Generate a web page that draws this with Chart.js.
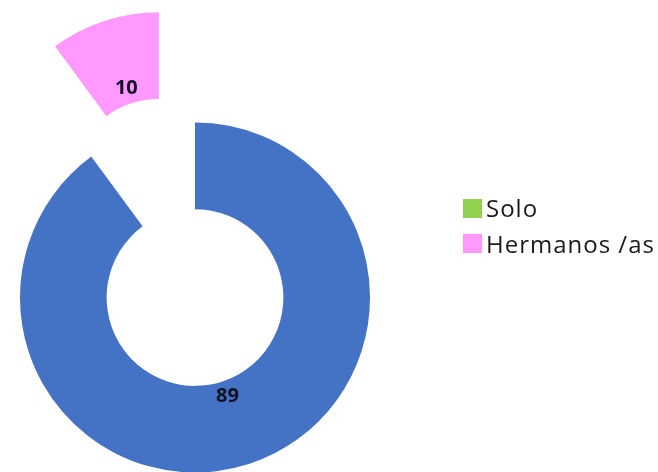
<!DOCTYPE html>
<html>
<head>
<meta charset="utf-8">
<script src="https://cdn.jsdelivr.net/npm/chart.js@4.4.0/dist/chart.umd.min.js"></script>
<style>
  html, body { margin: 0; padding: 0; background: #fff; }
  #wrap { position: relative; width: 658px; height: 472px; }
  #legend { position: absolute; left: 463px; top: 196px; margin: 0; padding: 0; list-style: none;
            font-family: "Open Sans", sans-serif; font-size: 24px; letter-spacing: 1px; color: #1a1a1a; }
  #legend li { display: flex; align-items: center; height: 24px; line-height: 24px; margin-bottom: 11.5px; white-space: nowrap; }
  #legend .box { display: inline-block; width: 19px; height: 19px; margin-right: 4px; }
</style>
</head>
<body>
<div id="wrap">
  <canvas id="chart" width="658" height="472"></canvas>
  <ul id="legend"></ul>
</div>
<script>
// data
const categories = ['', 'Solo', 'Hermanos /as'];
const values = [89, 0, 10];
const sliceColors = ['#4472C4', '#92D050', '#FF99FF'];
// how far each slice is pulled out of the ring (px)
const explode = [0, 0, 116];

// pull a slice out by translating it, ring size stays the same
const explodePlugin = {
  id: 'explode',
  afterUpdate(chart) {
    const meta = chart.getDatasetMeta(0);
    meta.data.forEach(function(arc, i) {
      const d = explode[i] || 0;
      if (!d || arc._exploded) return;
      const baseDraw = arc.draw;
      arc.draw = function(ctx) {
        const mid = (this.startAngle + this.endAngle) / 2;
        ctx.save();
        ctx.translate(Math.cos(mid) * d, Math.sin(mid) * d);
        baseDraw.call(this, ctx);
        ctx.restore();
      };
      arc._exploded = true;
    });
  }
};

// value labels inside the ring
const valueLabels = {
  id: 'valueLabels',
  afterDatasetsDraw(chart) {
    const ctx = chart.ctx;
    const meta = chart.getDatasetMeta(0);
    ctx.save();
    ctx.font = 'bold 20px "Open Sans"';
    ctx.fillStyle = '#111122';
    ctx.textAlign = 'center';
    ctx.textBaseline = 'middle';
    meta.data.forEach(function(arc, i) {
      if (!values[i]) return;
      const mid = (arc.startAngle + arc.endAngle) / 2;
      const r = arc.innerRadius + (arc.outerRadius - arc.innerRadius) * 0.18 + (explode[i] || 0);
      ctx.fillText(values[i], arc.x + Math.cos(mid) * r, arc.y + Math.sin(mid) * r);
    });
    ctx.restore();
  }
};

// html legend from the chart's own legend items
const htmlLegend = {
  id: 'htmlLegend',
  afterUpdate(chart) {
    const ul = document.getElementById('legend');
    ul.innerHTML = '';
    const items = chart.options.plugins.legend.labels.generateLabels(chart);
    items.forEach(function(item) {
      if (item.text === '') return;
      const li = document.createElement('li');
      const box = document.createElement('span');
      box.className = 'box';
      box.style.background = item.fillStyle;
      const txt = document.createElement('span');
      txt.textContent = item.text;
      li.appendChild(box);
      li.appendChild(txt);
      ul.appendChild(li);
    });
  }
};

new Chart(document.getElementById('chart'), {
  type: 'doughnut',
  data: {
    labels: categories,
    datasets: [{
      data: values,
      backgroundColor: sliceColors,
      borderWidth: 0,
      clip: false
    }]
  },
  options: {
    responsive: false,
    animation: false,
    radius: 175,
    cutout: '50.5%',
    layout: {
      padding: { top: 123, bottom: 0, left: 0, right: 268 }
    },
    plugins: {
      tooltip: { enabled: false },
      legend: { display: false }
    }
  },
  plugins: [explodePlugin, valueLabels, htmlLegend]
});
</script>
</body>
</html>
